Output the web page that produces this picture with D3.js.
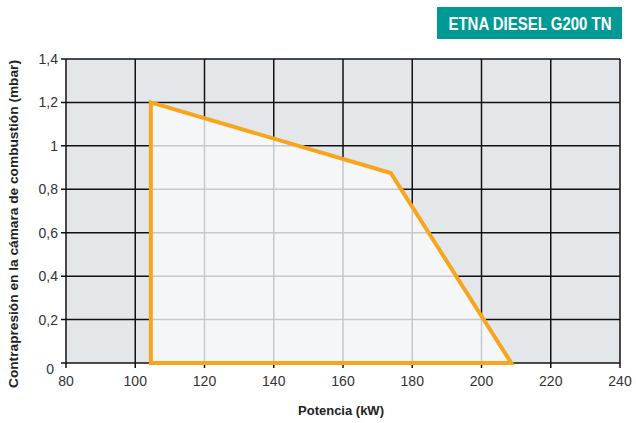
<!DOCTYPE html>
<html><head><meta charset="utf-8">
<script src="https://cdn.jsdelivr.net/npm/d3@7"></script>
<style>body{margin:0;background:#fff;} text{font-family:"Liberation Sans",Arial,sans-serif;}</style>
</head><body>
<svg id="c" width="636" height="423"></svg>
<script>
const xTicks = [80,100,120,140,160,180,200,220,240];
const yTicks = [0,0.2,0.4,0.6,0.8,1,1.2,1.4];
const rangeX = [104.5,104.5,173.8,208.6];
const rangeY = [0,1.2,0.875,0];
const title = "ETNA DIESEL G200 TN";
const xLabel = "Potencia (kW)";
const yLabel = "Contrapresión en la cámara de combustión (mbar)";

const svg = d3.select("#c");
const m = {l:66, r:620, t:59, b:363};
const x = d3.scaleLinear().domain([80,240]).range([m.l,m.r]);
const y = d3.scaleLinear().domain([0,1.4]).range([m.b,m.t]);
const pts = rangeX.map((v,i)=>[x(v), y(rangeY[i])]);
const fmt = d => String(d).replace(".",",");

svg.append("rect").attr("x",m.l).attr("y",m.t).attr("width",m.r-m.l).attr("height",m.b-m.t).attr("fill","#e4e7ea");
const gridDark = svg.append("g");
gridDark.selectAll("line.v").data(xTicks).join("line").attr("x1",d=>x(d)).attr("x2",d=>x(d)).attr("y1",m.t).attr("y2",m.b+5).attr("stroke","#111").attr("stroke-width",1.5);
gridDark.selectAll("line.h").data(yTicks).join("line").attr("x1",m.l-5).attr("x2",m.r).attr("y1",d=>y(d)).attr("y2",d=>y(d)).attr("stroke","#111").attr("stroke-width",1.5);

svg.append("clipPath").attr("id","poly").append("polygon").attr("points",pts.map(p=>p.join(",")).join(" "));
svg.append("polygon").attr("points",pts.map(p=>p.join(",")).join(" ")).attr("fill","#f4f6f8");
const gridLight = svg.append("g").attr("clip-path","url(#poly)");
gridLight.selectAll("line.v").data(xTicks).join("line").attr("x1",d=>x(d)).attr("x2",d=>x(d)).attr("y1",m.t).attr("y2",m.b).attr("stroke","#c5c9cd").attr("stroke-width",1.5);
gridLight.selectAll("line.h").data(yTicks).join("line").attr("x1",m.l).attr("x2",m.r).attr("y1",d=>y(d)).attr("y2",d=>y(d)).attr("stroke","#c5c9cd").attr("stroke-width",1.5);

svg.append("polygon").attr("points",pts.map(p=>p.join(",")).join(" ")).attr("fill","none").attr("stroke","#f7a51c").attr("stroke-width",4).attr("stroke-linejoin","miter");

svg.selectAll("text.xt").data(xTicks).join("text").attr("x",d=>x(d)).attr("y",386).attr("text-anchor","middle").attr("font-size",14).attr("fill","#333").text(d=>d);
svg.selectAll("text.yt").data(yTicks).join("text").attr("x",d=>d===0?54:58).attr("y",d=>y(d)+(d===0?11:5)).attr("text-anchor","end").attr("font-size",14).attr("fill","#333").text(fmt);

svg.append("text").attr("x",341).attr("y",415).attr("text-anchor","middle").attr("font-size",13).attr("font-weight","bold").attr("fill","#222").text(xLabel);
svg.append("text").attr("transform","translate(18,224) rotate(-90)").attr("text-anchor","middle").attr("font-size",13).attr("font-weight","bold").attr("fill","#222")
  .attr("textLength",328).attr("lengthAdjust","spacingAndGlyphs").text(yLabel);

svg.append("rect").attr("x",437).attr("y",7).attr("width",185).attr("height",32).attr("fill","#009a94");
svg.append("text").attr("transform","translate(530,30) scale(1,1.2)").attr("text-anchor","middle").attr("font-size",15).attr("font-weight","bold").attr("fill","#fff")
  .text(title);
</script>
</body></html>
